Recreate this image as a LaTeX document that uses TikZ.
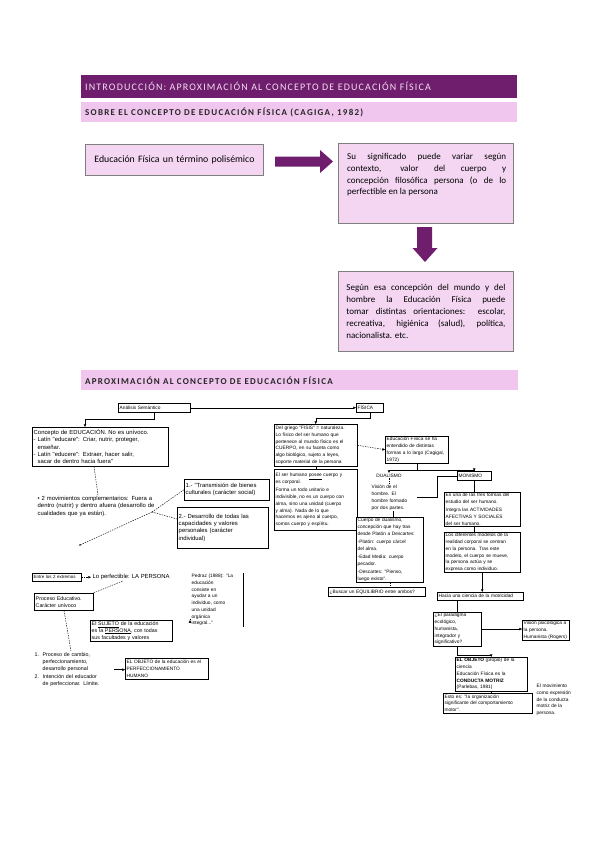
\documentclass[tikz,border=0pt]{standalone}
\usepackage{fontspec}
\setmainfont{Carlito}
\newfontfamily\lowfam{Liberation Sans}
\usetikzlibrary{arrows.meta,calc}
\definecolor{tpurple}{HTML}{6E1E6C}
\definecolor{barpink}{HTML}{F0C6EE}
\definecolor{boxpink}{HTML}{F4D6F2}
\definecolor{boxline}{HTML}{7F7F7F}
\definecolor{titletext}{HTML}{F4DDF2}
\definecolor{bartext}{HTML}{262626}
\newcommand{\lowf}{\lowfam\fontsize{4.8}{6.7}\selectfont}
\newcommand{\lowg}{\lowfam\fontsize{5.9}{7.3}\selectfont}
\newcommand{\lowm}{\lowfam\fontsize{5.3}{6.9}\selectfont}
\begin{document}
\begin{tikzpicture}[x=1pt,y=-1pt,
 lowtxt/.style={font=\lowf, align=left, inner xsep=1.5pt, inner ysep=1.2pt, anchor=north west},
 lbox/.style={lowtxt, draw=black, line width=0.45pt, fill=white},
 cline/.style={line width=0.45pt, draw=black},
 dline/.style={cline, dash pattern=on 1.4pt off 1.1pt},
 arw/.style={-{Triangle[length=2.6pt,width=2.4pt]}},
 pbox/.style={draw=boxline, line width=0.9pt, fill=boxpink, anchor=north west},
 pfont/.style={font=\fontsize{9}{11.8}\selectfont},
 barnode/.style={anchor=north west, inner sep=0pt},
 bartxt/.style={anchor=west, inner sep=0pt, text=bartext, font=\fontsize{9}{10}\selectfont\bfseries\addfontfeature{LetterSpace=14}},
 blockarrow/.style={fill=tpurple, draw=none}]
\fill[white] (0,0) rectangle (599,848);
\useasboundingbox (0,0) rectangle (599,848);

% ---------- headers ----------
\node[barnode, fill=tpurple, minimum width=436pt, minimum height=23pt] (bar1) at (81,75) {};
\node[anchor=west, inner sep=0pt, text=titletext, font=\fontsize{10}{11}\selectfont\addfontfeature{LetterSpace=11.5}] (bar1t) at (85,86.5) {INTRODUCCIÓN: APROXIMACIÓN AL CONCEPTO DE EDUCACIÓN FÍSICA};
\node[barnode, fill=barpink, minimum width=436pt, minimum height=20pt] (bar2) at (81,102) {};
\node[bartxt] (bar2t) at (85,112.5) {SOBRE EL CONCEPTO DE EDUCACIÓN FÍSICA (CAGIGA, 1982)};
\node[barnode, fill=barpink, minimum width=437pt, minimum height=20pt] (bar3) at (81,370) {};
\node[bartxt] (bar3t) at (85,380.5) {APROXIMACIÓN AL CONCEPTO DE EDUCACIÓN FÍSICA};

% ---------- upper boxes ----------
\node[pbox, font=\fontsize{9.8}{11.8}\selectfont, minimum width=178pt, minimum height=31pt, text width=164pt, inner xsep=7pt, align=left] (ef1) at (85,144) {\hspace*{2pt}Educación Física un término polisémico};
\node[pbox, minimum width=175pt, minimum height=80pt] (ef2) at (338,143) {};
\node[pfont, anchor=north west, inner sep=0pt, text width=159pt, align=justify] (ef2t) at (347,153) {Su significado puede variar según\linebreak contexto, valor del cuerpo y\linebreak concepción filosófica persona (o de lo\linebreak perfectible en la persona\par};
\node[pbox, pfont, minimum width=175pt, minimum height=80pt, text width=159pt, inner xsep=8pt, align=justify] (ef3) at (338,271) {Según esa concepción del mundo y del\linebreak hombre la Educación Física puede\linebreak tomar distintas orientaciones: escolar,\linebreak recreativa, higiénica (salud), política,\linebreak nacionalista. etc.};
\fill[blockarrow] (275,156.5) -- (320,156.5) -- (320,150) -- (333,161.5) -- (320,173) -- (320,166.5) -- (275,166.5) -- cycle;
\fill[blockarrow] (417,227) -- (432,227) -- (432,248) -- (437.5,248) -- (425,262) -- (412.5,248) -- (417,248) -- cycle;

% ---------- lower diagram: left ----------
\node[lbox, text width=69pt, minimum height=9pt] (anal) at (118,403) {Análisis Semántico};
\node[lbox, text width=24pt, minimum height=9pt] (fis) at (356,403) {FÍSICA};
\draw[cline,arw] (anal.east) -- (fis.west);
\node[lbox, font=\lowg, text width=133pt, minimum height=39pt] (conc) at (32,427) {Concepto de EDUCACIÓN. No es unívoco.\\- Latín "educare": Criar, nutrir, proteger,\\\phantom{- }enseñar.\\- Latín "educere": Extraer, hacer salir,\\\phantom{- }sacar de dentro hacia fuera"};
\draw[cline,arw] (anal.south) |- ($(conc.north west)+(53,-8)$) -- ($(conc.north west)+(53,0)$);
\node[lowtxt, font=\lowg, text width=136pt] (mov) at (36,495) {• 2 movimientos complementarios: Fuera a\\dentro (nutrir) y dentro afuera (desarrollo de\\cualidades que ya están).};
\draw[dline] ($(conc.south west)+(62,0)$) -- ($(mov.north west)+(62,0)$);
\node[lbox, font=\lowg, text width=82pt, minimum height=21pt] (bb1) at (184,479) {1.- "Transmisión de bienes\\culturales (carácter social)};
\node[lbox, font=\lowg, text width=88pt, minimum height=41pt] (bb2) at (177,507) {2.- Desarrollo de todas las\\capacidades y valores\\personales (carácter\\individual)};
\coordinate (mc) at (152,512);
\coordinate (dotend) at (80,545);
\draw[dline] (mc) -- (bb1.west);
\draw[dline] (mc) -- ($(bb2.north west)+(0,12)$);
\draw[dline] (mc) -- (dotend);
\fill (dotend) circle (0.9pt);

% ---------- lower diagram: middle ----------
\node[lbox, text width=80pt, minimum height=42pt] (dg) at (274,424) {Del griego "FISIS" = naturaleza.\\Lo físico del ser humano que\\pertenece al mundo físico es el\\CUERPO, en su faceta como\\algo biológico, sujeto a leyes,\\soporte material de la persona};
\draw[cline,arw] (fis.south) -- ++(0,6) -| (dg.north);
\node[lbox, text width=80pt, minimum height=61pt] (ser) at (274,469) {El ser humano \underline{posee} cuerpo y\\es corporal.\\[2pt]Forma un todo unitario e\\indivisible, no es un cuerpo con\\alma, sino una unidad (cuerpo\\y alma). Nada de lo que\\hacemos es ajeno al cuerpo,\\somos cuerpo y espíritu.};
\draw[cline] (dg.south) -- (ser.north);
\node[lbox, text width=60pt, minimum height=27pt] (ef) at (385,436) {Educación Física se ha\\entendido de distintas\\formas a lo largo (Cagigal,\\1972)};
\draw[dline,arw] (dg.east) -- (ef.west);
\coordinate (fk) at ($(ef.south)+(0,7)$);
\draw[cline] (ef.south) -- (fk);
\node[lowtxt, anchor=north, inner ysep=0.8pt] (dual) at (389,473) {DUALISMO};
\node[lbox, text width=31pt, minimum height=9pt] (mon) at (457,471) {MONISMO};
\draw[cline,arw] (fk) -| (dual.north);
\draw[cline,arw] (fk) -| (mon.north);
\node[lowtxt, text width=44pt] (vis) at (370,484) {Visión de el\\hombre. El\\hombre formado\\por dos partes.};
\draw[dline] (dual.south) -- (dual.south |- vis.north);
\draw[cline] (vis.east) -- ++(20,0) |- (mon.west);
\node[lbox, text width=64pt, minimum height=64pt] (cd) at (356,517) {Cuerpo de dualismo,\\concepción que hay tras\\desde Platón a Descartes:\\[1.5pt]-Platón: cuerpo cárcel\\del alma.\\[1.5pt]-Edad Media: cuerpo\\pecador.\\[1.5pt]-Descartes: "Pienso,\\luego existo".};
\draw[cline] (vis.south) -- (vis.south |- cd.north);
\node[lbox, text width=94pt, minimum height=9pt] (eq) at (328,587) {¿Buscar un EQUILIBRIO entre ambos?};
\draw[dline] (cd.south) -- (cd.south |- eq.north);

% ---------- lower diagram: right ----------
\node[lbox, text width=73pt, minimum height=33pt] (m1) at (444,492) {Es una de las tres formas del\\estudio del ser humano.\\[1.5pt]Integra las ACTIVIDADES\\AFECTIVAS Y SOCIALES\\del ser humano.};
\draw[cline] (mon.south) -- (mon.south |- m1.north);
\node[lbox, text width=73pt, minimum height=40pt] (m2) at (444,532) {Los diferentes modelos de la\\realidad corporal se centran\\en la persona. Tras este\\modelo, el cuerpo se mueve,\\la persona actúa y se\\expresa como individuo.};
\draw[cline] (mon.south |- m1.south) -- (mon.south |- m2.north);
\node[lbox, text width=83pt, minimum height=8pt, inner ysep=0.8pt] (hb) at (437,592) {Hacia una ciencia de la motricidad};
\draw[cline,arw] (m2.south) -- (m2.south |- hb.north);
\node[lbox, text width=45pt, minimum height=31pt] (par) at (433,612) {¿El paradigma\\ecológico,\\humanista,\\integrador y\\significativo?};
\draw[cline] (par.north |- hb.south) -- (par.north);
\node[lbox, text width=44pt, minimum height=17pt] (vp) at (522,620) {Visión psicológica a\\la persona.\\Humanista (Rogers)};
\draw[cline,arw] (par.east) -- (par.east -| vp.west);
\node[lbox, text width=69pt, minimum height=27pt] (obj) at (455,657) {\textbf{EL OBJETO} (propio) de la ciencia\\Educación Física es la\\\textbf{CONDUCTA MOTRIZ}\\(Parlebas, 1981)};
\draw[cline,arw] (par.south) -- ++(0,9) -| (obj.north);
\node[lbox, text width=86pt, minimum height=20pt] (esto) at (443,693) {Esto es: "la organización\\significante del comportamiento\\motor".};
\draw[dline] (obj.south) -- (obj.south |- esto.north);
\node[lowtxt, text width=36pt] (mov2) at (535,683) {El movimiento\\como expresión\\de la conducta\\motriz de la\\persona.};

% ---------- lower diagram: bottom left ----------
\node[lbox, font=\lowfam\fontsize{4.5}{5.5}\selectfont, text width=46pt, minimum height=8pt, inner ysep=0.8pt] (ext) at (32,573) {Entre los 2 extremos};
\node[lowtxt, font=\lowg] (lp) at (91,572.5) {Lo perfectible: LA PERSONA};
\draw[dline,arw] (ext.east) -- (ext.east -| lp.west);
\node[lbox, font=\lowm, text width=56pt, minimum height=17pt] (pe) at (34,593) {Proceso Educativo.\\Carácter unívoco};
\draw[dline] (pe.north east) -- ($(lp.south west)+(32,0)$);
\node[lowtxt, text width=50pt] (ped) at (190,573) {Pedraz (1988): "La\\educación\\consiste en\\ayudar a un\\individuo, como\\una unidad\\orgánica\\integral..."};
\draw[cline] (ped.north east) -- (ped.south east);
\node[lbox, font=\lowm, text width=79pt, minimum height=21pt] (suj) at (90,620) {El \underline{SUJETO} de la educación\\es la \underline{PERSONA}, con todas\\sus facultades y valores};
\draw[dline] ($(lp.south west)+(41,0)$) -- ($(lp.south west)+(41,0)$ |- suj.north);
\draw[dline,arw] ($(ped.south west)+(0,-7)$) -- ($(ped.south west)+(0,-7)$ -| suj.east);
\node[lowtxt, font=\lowm, text width=78pt] (n12) at (33,651) {1.\ \ Proceso de cambio,\\\phantom{1.\ \ }perfeccionamiento,\\\phantom{1.\ \ }desarrollo personal\\[2pt]2.\ \ Intención del educador\\\phantom{2.\ \ }de perfeccionar. Límite.};
\draw[dline] ($(pe.south west)+(30,0)$) -- ($(n12.north west)+(38,0)$);
\node[lbox, text width=80pt, minimum height=21pt] (obj2) at (125,658) {EL OBJETO de la educación es el\\PERFECCIONAMIENTO\\HUMANO};
\draw[cline,arw] (n12.east) -- (n12.east -| obj2.west);
\end{tikzpicture}
\end{document}
